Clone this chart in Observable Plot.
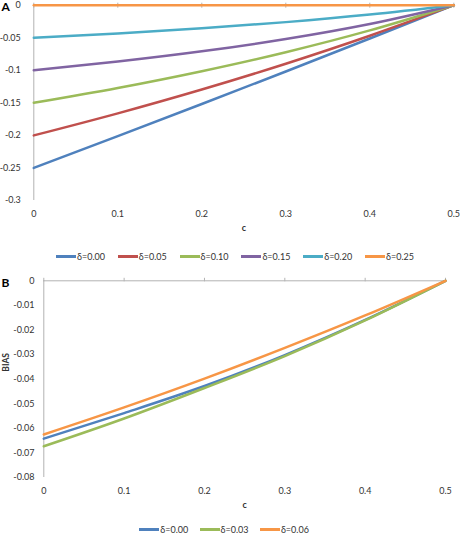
<!DOCTYPE html>
<html>
<head>
<meta charset="utf-8">
<script src="https://cdn.jsdelivr.net/npm/d3@7"></script>
<script src="https://cdn.jsdelivr.net/npm/@observablehq/plot@0.6"></script>
<style>
  body { margin: 0; background: #fff; font-family: Lato, "DejaVu Sans", sans-serif; }
  #wrap { position: relative; width: 462px; height: 538px; overflow: hidden; }
  .panel { position: absolute; left: 0; }
  .tag { position: absolute; font-weight: bold; font-size: 12px; color: #000; }
  .legend { position: absolute; display: flex; font-size: 9px; color: #333; }
  .item { display: flex; align-items: center; }
  .sw { width: 20px; height: 2.5px; margin-right: 1px; }
</style>
</head>
<body>
<div id="wrap"></div>
<script>
// ---- data ----
const cVals = [0, 0.1, 0.2, 0.3, 0.4, 0.5];
const xTicks = [0, 0.1, 0.2, 0.3, 0.4, 0.5];

const deltaA = ["δ=0.00", "δ=0.05", "δ=0.10", "δ=0.15", "δ=0.20", "δ=0.25"];
const biasA_000 = [-0.25, -0.2012, -0.1518, -0.1018, -0.0512, 0];
const biasA_005 = [-0.2, -0.1661, -0.1295, -0.0899, -0.0469, 0];
const biasA_010 = [-0.15, -0.1272, -0.1014, -0.0722, -0.0387, 0];
const biasA_015 = [-0.1, -0.0866, -0.0709, -0.0519, -0.0288, 0];
const biasA_020 = [-0.05, -0.0433, -0.0354, -0.026, -0.0144, 0];
const biasA_025 = [0, 0, 0, 0, 0, 0];
const yTicksA = [0, -0.05, -0.1, -0.15, -0.2, -0.25, -0.3];

const deltaB = ["δ=0.00", "δ=0.03", "δ=0.06"];
const biasB_000 = [-0.0642, -0.0538, -0.0428, -0.0302, -0.0159, 0];
const biasB_003 = [-0.0673, -0.0560, -0.0436, -0.0306, -0.0161, 0];
const biasB_006 = [-0.0625, -0.0515, -0.0398, -0.0273, -0.0141, 0];
const yTicksB = [0, -0.01, -0.02, -0.03, -0.04, -0.05, -0.06, -0.07, -0.08];

const colorsA = ["#4F81BD", "#C0504D", "#9BBB59", "#8064A2", "#4BACC6", "#F79646"];
const colorsB = ["#4F81BD", "#9BBB59", "#F79646"];

// ---- build tables ----
function table(names, seriesList) {
  const rows = [];
  names.forEach((n, i) => cVals.forEach((c, j) => rows.push({series: n, c, bias: seriesList[i][j]})));
  return rows;
}
const rowsA = table(deltaA, [biasA_000, biasA_005, biasA_010, biasA_015, biasA_020, biasA_025]);
const rowsB = table(deltaB, [biasB_000, biasB_003, biasB_006]);

const fmt = d => String(+(+d).toFixed(2));
const axisGray = "#b3b3b3";

const wrap = document.getElementById("wrap");

function makePanel(rows, names, colors, yTicks, yDomain, opts) {
  const marks = [
    Plot.ruleX([0], {stroke: axisGray}),
    Plot.ruleY([0], {stroke: axisGray}),
    Plot.axisX(xTicks, {anchor: "top", tickSize: opts.topTick, dy: opts.topTickDy, tickFormat: () => "", stroke: axisGray, label: null}),
    Plot.axisX(xTicks, {anchor: "bottom", tickSize: 0, tickPadding: opts.xPad, tickFormat: fmt, label: null}),
    Plot.axisY(yTicks, {anchor: "left", tickSize: 0, tickPadding: opts.yPad, tickFormat: fmt, label: null}),
    Plot.line(rows, {x: "c", y: "bias", z: "series", stroke: "series", strokeWidth: 2.5, curve: "monotone-x"}),
    Plot.text(["c"], {frameAnchor: "bottom", dy: opts.cDy, fontWeight: "bold", fontSize: 9})
  ];
  if (opts.ylabel) {
    marks.push(Plot.text([opts.ylabel], {frameAnchor: "left", dx: opts.ylabelDx, dy: opts.ylabelDy, rotate: -90, fontWeight: "bold", fontSize: 8.5}));
  }
  return Plot.plot({
    width: 462,
    height: opts.height,
    marginTop: opts.mt,
    marginBottom: opts.mb,
    marginLeft: opts.ml,
    marginRight: opts.mr,
    style: {fontFamily: "Lato, sans-serif", fontSize: "9px", color: "#333", background: "transparent"},
    x: {domain: [0, 0.5]},
    y: {domain: yDomain},
    color: {domain: names, range: colors},
    marks
  });
}

function legend(names, colors, left, top, itemW) {
  const d = document.createElement("div");
  d.className = "legend";
  d.style.left = left + "px";
  d.style.top = top + "px";
  names.forEach((n, i) => {
    const it = document.createElement("div");
    it.className = "item";
    it.style.width = itemW + "px";
    const sw = document.createElement("div");
    sw.className = "sw";
    sw.style.background = colors[i];
    const t = document.createElement("span");
    t.textContent = n;
    it.appendChild(sw); it.appendChild(t);
    d.appendChild(it);
  });
  wrap.appendChild(d);
}

// Panel A
const pA = makePanel(rowsA, deltaA, colorsA, yTicksA, [-0.3, 0], {
  height: 240, mt: 4.7, mb: 40, ml: 33.3, mr: 8.7,
  topTick: 5, topTickDy: 2, xPad: 10.5, yPad: 13, cDy: 30
});
pA.classList.add("panel"); pA.style.top = "0px";
wrap.appendChild(pA);
legend(deltaA, colorsA, 56, 251, 61.8);

// Panel B
const pB = makePanel(rowsB, deltaB, colorsB, yTicksB, [-0.08, 0], {
  height: 245, mt: 8.3, mb: 40, ml: 43.3, mr: 17,
  topTick: 3.5, topTickDy: 0, xPad: 10.5, yPad: 9.3, cDy: 30,
  ylabel: "BIAS", ylabelDx: -38, ylabelDy: -7.5
});
pB.classList.add("panel"); pB.style.top = "272px";
wrap.appendChild(pB);
legend(deltaB, colorsB, 139.3, 524, 60.3);

// Panel tags
[["A", 1.5, -1], ["B", 1.5, 275]].forEach(([t, x, y]) => {
  const s = document.createElement("div");
  s.className = "tag";
  s.textContent = t;
  s.style.left = x + "px";
  s.style.top = y + "px";
  wrap.appendChild(s);
});
</script>
</body>
</html>
